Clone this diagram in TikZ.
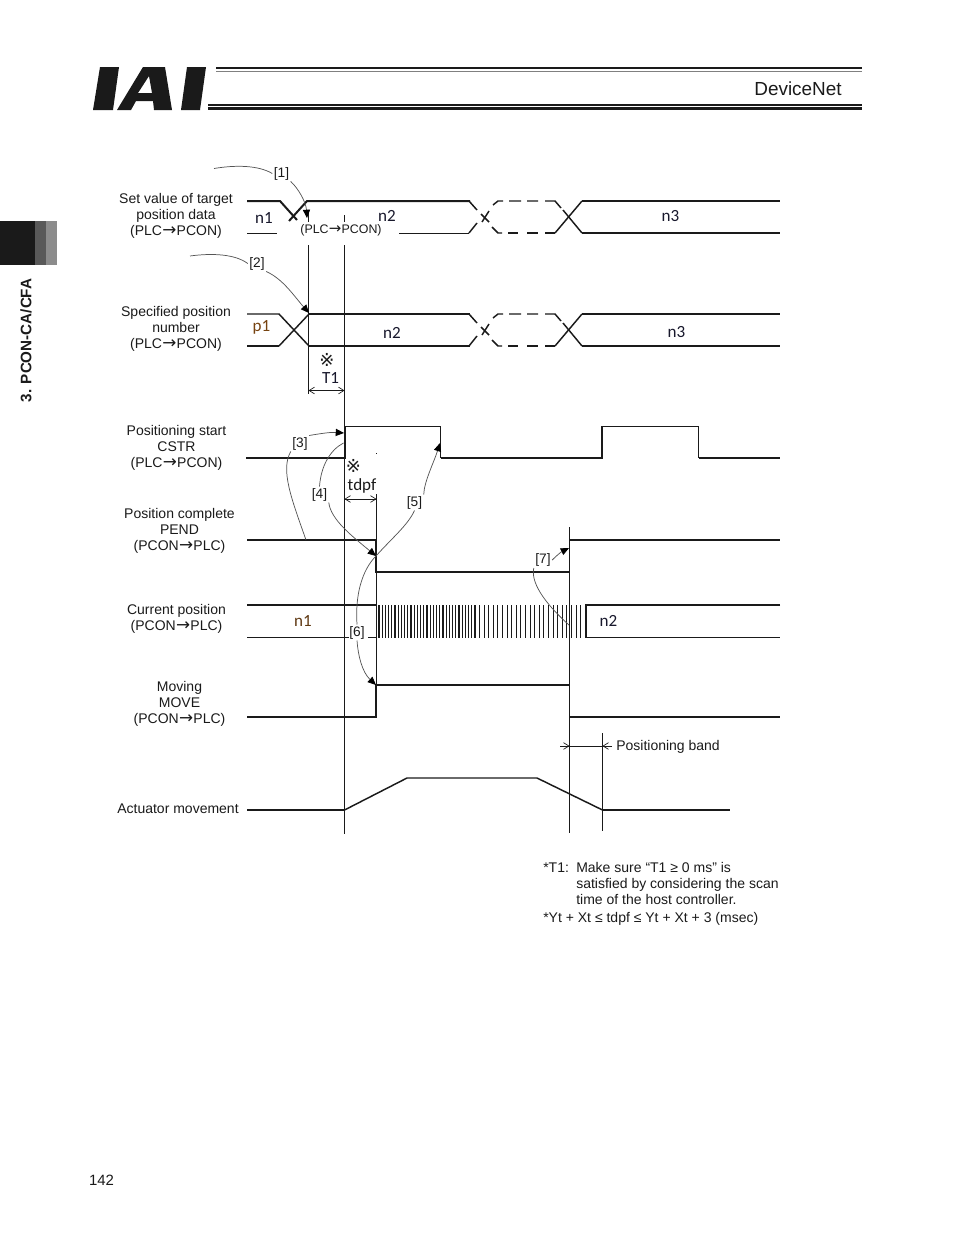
\documentclass[tikz,border=0pt]{standalone}
\usepackage{fontspec}
\setmainfont{Liberation Sans}
\newfontfamily\sigfont{Carlito}
\newfontfamily\symfont{DejaVu Sans}
\newcommand{\arr}[1]{{\symfont\fontsize{#1}{12}\selectfont\kern0.2pt\raisebox{-0.4pt}{→}\kern0.2pt}}
\usetikzlibrary{arrows.meta}
\definecolor{ink}{HTML}{1A1A1A}
\definecolor{curve}{HTML}{555555}
\tikzset{
  thinl/.style={draw=ink,line width=0.75pt},
  thickl/.style={draw=ink,line width=1.5pt},
  midl/.style={draw=ink,line width=1.1pt},
  txt/.style={font=\fontsize{10.5}{12}\selectfont,text=ink,inner sep=0pt,align=center},
  sig/.style={font=\sigfont\fontsize{12.8}{14}\selectfont,text=#1,inner sep=0pt},
  sig/.default={ink},
  tag/.style={font=\fontsize{10.3}{12}\selectfont,text=ink,inner sep=1pt},
  note/.style={font=\fontsize{10.5}{12}\selectfont,text=ink,inner sep=0pt,anchor=base west},
  ann/.style={draw=curve,line width=0.55pt},
  annarrow/.style={ann,-{Triangle[length=6.2pt,width=5.4pt,fill=black,color=black]}},
  dim/.style={draw=ink,line width=0.5pt,{Straight Barb[length=4pt,width=5pt]}-{Straight Barb[length=4pt,width=5pt]}},
  barb/.style={draw=ink,line width=0.5pt,-{Straight Barb[length=4pt,width=5pt]}},
}
\newcommand{\midcross}[1]{%
  \begin{scope}[yshift=#1*-0.75pt]
  \draw[midl] (469,201)--(477,210);
  \draw[midl] (469,233)--(477,223);
  \draw[midl] (481,214)--(489,222);
  \draw[midl] (482,222)--(489,211);
  \draw[midl] (493,205)--(498,201)--(503,201);
  \draw[midl] (492,227)--(498,233)--(502,233);
  \draw[midl] (509,201)--(521,201) (527,201)--(538,201) (545,201)--(555,201)--(561,208);
  \draw[midl] (508,233)--(518,233) (527,233)--(538,233) (545,233)--(555,233);
  \draw[midl] (555,233)--(582,201);
  \draw[midl] (563,210)--(582,233);
  \end{scope}}
\begin{document}
\begin{tikzpicture}[x=0.75pt,y=-0.75pt]
\useasboundingbox (0,0) rectangle (954,1235);
% logo
\fill[ink] (100,67)--(119,67)--(113,110)--(93,110)--cycle;
\fill[ink,even odd rule] (117,110)--(143,67)--(165,67)--(172,110)--(154,110)--(153,101)--(136,101)--(131,110)--cycle
  (138,93)--(152,93)--(149,76)--cycle;
\fill[ink] (187,67)--(206,67)--(200,110)--(181,110)--cycle;
% header rules
\draw[ink,line width=1.5pt] (216,68)--(862,68);
\draw[gray,line width=1.1pt] (216,71.7)--(862,71.7);
\draw[ink,line width=0.9pt] (208,105)--(862,105);
\draw[ink,line width=2pt] (208,108.7)--(862,108.7);
\node[font=\fontsize{14.2}{16}\selectfont,text=ink,inner sep=0pt] (title) at (798,89) {DeviceNet};
% side tab
\fill[ink] (0,221) rectangle (35,265);
\fill[black!65] (35,221) rectangle (46,265);
\fill[black!45] (46,221) rectangle (57,265);
\node[font=\bfseries\fontsize{11.4}{13}\selectfont,text=ink,rotate=90,inner sep=0pt] (side) at (26,340.5) {3. PCON-CA/CFA};
\node[font=\fontsize{11.2}{13}\selectfont,text=ink,inner sep=0pt] (page) at (101.5,1180) {142};
% signal labels
\node[txt] (a1) at (176,215.5) {Set value of target\\position data\\(PLC\arr{12.6}PCON)};
\node[txt] (a2) at (176,328.5) {Specified position\\number\\(PLC\arr{12.6}PCON)};
\node[txt] (a3) at (176.5,447.5) {Positioning start\\CSTR\\(PLC\arr{12.6}PCON)};
\node[txt] (a4) at (179.5,530.5) {Position complete\\PEND\\(PCON\arr{12.6}PLC)};
\node[txt] (a5) at (176.5,618.5) {Current position\\(PCON\arr{12.6}PLC)};
\node[txt] (a6) at (179.5,703.5) {Moving\\MOVE\\(PCON\arr{12.6}PLC)};
\node[txt] (a7) at (178,808.5) {Actuator movement};
% row 1
\draw[thickl] (247,201)--(280,201)--(297,220);
\draw[thickl] (289,221)--(307,201)--(470,201);
\draw[thinl] (247,233)--(277,233);
\draw[thinl] (399,233)--(469,233);
\midcross{0}
\draw[thickl,line width=1.2pt] (582,201)--(780,201);
\draw[midl] (582,233)--(780,233);
% row 2
\draw[midl] (247,314)--(279,314)--(309,346);
\draw[thickl] (247,346)--(279,346);
\draw[midl] (279,346)--(309,314);
\draw[midl] (309,314)--(470,314);
\draw[thickl] (309,346)--(470,346);
\midcross{113}
\draw[midl] (582,314)--(780,314);
\draw[thickl,line width=1.2pt] (582,346)--(780,346);
% CSTR
\draw[thickl] (246,458)--(344.5,458)--(344.5,426);
\draw[thinl] (344.5,426)--(440.5,426)--(440.5,458);
\draw[thickl] (440.5,458)--(602,458)--(602,426);
\draw[thinl] (602,426)--(698.5,426);
\draw[midl] (698.5,426)--(698.5,458);
\draw[thickl] (698.5,458)--(780,458);
% PEND
\draw[thickl] (247,540)--(376,540)--(376,572)--(569.5,572);
\draw[thickl] (569.5,540)--(780,540);
% current position
\draw[thickl] (247,605)--(376,605);
\draw[thinl] (247,637.5)--(349,637.5) (368,637.5)--(376,637.5);
\foreach \i in {0,...,30} \draw[draw=ink,line width=0.95pt] ({379+3.2*\i},605)--({379+3.2*\i},637.5);
\foreach \i in {0,...,22} \draw[draw=ink,line width=0.75pt] ({479.5+4.6*\i},605)--({479.5+4.6*\i},637.5);
\draw[thickl] (780,605)--(586,605)--(586,637.5);
\draw[thinl] (586,637.5)--(780,637.5);
% MOVE
\draw[thickl] (247,717)--(376,717)--(376,685)--(569.5,685);
\draw[thickl] (569.5,717)--(780,717);
% actuator
\draw[midl] (247,810)--(344.5,810);
\draw[midl] (344.5,810)--(407,778)--(537,778)--(602.5,810);
\draw[midl] (602.5,810)--(730,810);
% vertical guide lines
\draw[thinl] (308.5,210)--(308.5,222) (308.5,245)--(308.5,394);
\draw[thinl] (344.5,215)--(344.5,222) (344.5,245)--(344.5,834);
\draw[thinl] (376.5,453)--(376.5,454) (376.5,494)--(376.5,717);
\draw[thinl] (569.5,527)--(569.5,833);
\draw[thinl] (602.5,733)--(602.5,831);
% dimensions
\coordinate (t1l) at (308.5,390.5); \coordinate (t1r) at (344.5,390.5);
\draw[dim] (t1l)--(t1r);
\coordinate (tdl) at (344.5,499); \coordinate (tdr) at (376.5,499);
\draw[dim] (tdl)--(tdr);
\coordinate (pbl) at (560,746); \coordinate (pbm) at (569.5,746);
\coordinate (pbr) at (612,746); \coordinate (pbn) at (602.5,746);
\draw[barb] (pbl)--(pbm);
\draw[barb] (pbr)--(pbn);
\draw[thinl] (pbm)--(pbn);
\node[txt,anchor=west] (band) at (616,746.5) {Positioning band};
% time symbols
\node[font=\symfont\fontsize{13.5}{15}\selectfont,text=ink,inner sep=0pt] (s1) at (327,359.5) {※};
\node[sig={ink!92!blue}] (T1) at (330.5,378.5) {T1};
\node[font=\symfont\fontsize{13.5}{15}\selectfont,text=ink,inner sep=0pt] (s2) at (353.5,466) {※};
\node[sig] (tdpf) at (362,486) {tdpf};
% values
\node[sig={ink!92!blue}] (v1) at (264,218) {n1};
\node[sig={ink!92!blue}] (v2) at (387,216) {n2};
\node[sig={ink!92!blue}] (v3) at (670.5,216) {n3};
\node[sig={orange!40!ink}] (v4) at (261.5,327) {p1};
\node[sig={ink!92!blue}] (v5) at (392,332.5) {n2};
\node[sig={ink!92!blue}] (v6) at (676.5,332.5) {n3};
\node[sig={orange!30!ink}] (v7) at (303,621) {n1};
\node[sig={ink!92!blue}] (v8) at (608.5,621) {n2};
\node[font=\fontsize{9.3}{11}\selectfont,text=ink,inner sep=0pt] (plc) at (341,230) {(PLC\arr{11.2}PCON)};
% annotation tags
\node[tag] (L1) at (281.5,173.5) {[1]};
\node[tag] (L2) at (257,263.5) {[2]};
\node[tag] (L3) at (300,443.5) {[3]};
\node[tag] (L4) at (319.5,494.5) {[4]};
\node[tag] (L5) at (414.5,502.5) {[5]};
\node[tag] (L6) at (357,632.5) {[6]};
\node[tag] (L7) at (543,560) {[7]};
\coordinate (c1s) at (214,168.5);
\coordinate (c1t) at (307,218);
\coordinate (c2s) at (190,256);
\coordinate (c2t) at (309,313);
\coordinate (c3t) at (344,433);
\coordinate (c3e) at (306,540);
\coordinate (c4s) at (343.5,443);
\coordinate (hub) at (376,556);
\coordinate (c5t) at (440,443);
\coordinate (c6t) at (376,685);
\coordinate (c7t) at (569,548);
\coordinate (c7e) at (569,625);
\draw[ann] (c1s) .. controls (235,165) and (258,165) .. (L1.west);
\draw[annarrow] (L1.south east) .. controls (298,188) and (306,202) .. (c1t);
\draw[ann] (c2s) .. controls (212,253) and (235,254) .. (L2.west);
\draw[annarrow] (L2.south east) .. controls (283,279) and (294,296) .. (c2t);
\draw[annarrow] (L3.north east) .. controls (318,434) and (330,432) .. (c3t);
\draw[ann] (L3.south west) .. controls (280,470) and (292,500) .. (c3e);
\draw[ann] (c4s) .. controls (330,450) and (321,466) .. (L4.north);
\draw[annarrow] (L4.south east) .. controls (331,520) and (352,536) .. (hub);
\draw[ann] (hub) .. controls (392,538) and (408,525) .. (L5.south);
\draw[annarrow] (L5.north east) .. controls (424,482) and (434,462) .. (c5t);
\draw[ann] (hub) .. controls (362,570) and (355,595) .. (L6.north);
\draw[annarrow] (L6.south) .. controls (358,655) and (362,672) .. (c6t);
\draw[annarrow] (L7.east) .. controls (555,557) and (561,552) .. (c7t);
\draw[ann] (L7.south west) .. controls (530,585) and (550,608) .. (c7e);
% notes
\node[note] (n1) at (543,872) {*T1:};
\node[note] (n2) at (576,872) {Make sure “T1 ≥ 0 ms” is};
\node[note] (n3) at (576,888) {satisfied by considering the scan};
\node[note] (n4) at (576,904) {time of the host controller.};
\node[note] (n5) at (543,922) {*Yt + Xt ≤ tdpf ≤ Yt + Xt + 3 (msec)};
\end{tikzpicture}
\end{document}
